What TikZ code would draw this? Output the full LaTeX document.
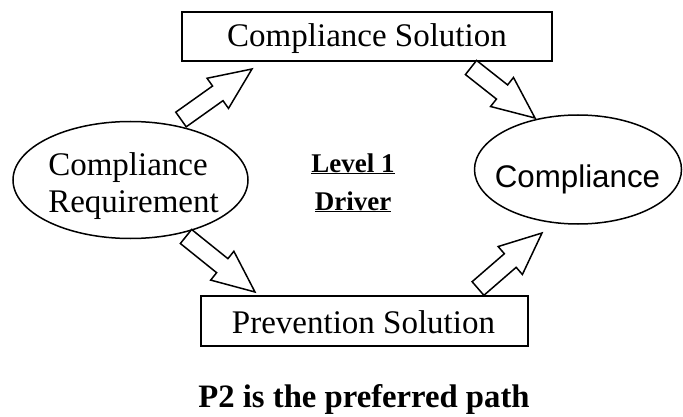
\documentclass[tikz,border=0pt]{standalone}
\usepackage{fontspec}
\setmainfont{Liberation Serif}
\newfontfamily\arialf{Liberation Sans}
\usetikzlibrary{shapes.geometric,calc}
\tikzset{
  boxnode/.style={draw, line width=1.5pt, inner sep=0pt},
  ellnode/.style={draw, ellipse, line width=1.5pt, inner sep=0pt},
  blockarrow/.style={draw, line width=1.5pt, line join=miter, fill=white},
  bigtext/.style={font=\fontsize{33}{37}\selectfont, inner sep=0pt},
}
\newcommand\blockarr[2]{%
  \coordinate (#1n) at ($(#2)!42pt!(#1)$);
  \draw[blockarrow] ($(#1)!9pt!90:(#2)$) -- ($(#1n)!9pt!90:(#2)$) -- ($(#1n)!18.5pt!90:(#2)$) -- (#2) -- ($(#1n)!18.5pt!-90:(#2)$) -- ($(#1n)!9pt!-90:(#2)$) -- ($(#1)!9pt!-90:(#2)$) -- cycle;}
\begin{document}
\begin{tikzpicture}[x=1pt,y=-1pt]
\useasboundingbox (0,0) rectangle (683,417);
% boxes
\node[boxnode, minimum width=370pt, minimum height=49pt] (csol) at (367,36.5) {};
\node[bigtext, anchor=base] (csoltext) at (367,47) {Compliance Solution};
\node[boxnode, minimum width=327pt, minimum height=50pt] (psol) at (364.5,321) {};
\node[bigtext, anchor=base] (psoltext) at (363.5,333) {Prevention Solution};
% ellipses
\node[ellnode, minimum width=235pt, minimum height=117pt] (req) at (130.5,180) {};
\node[bigtext, align=left] (reqtext) at (133.5,186) {Compliance\\Requirement};
\node[ellnode, minimum width=207pt, minimum height=109pt] (comp) at (578,169.5) {};
\node[font=\arialf\fontsize{31.3}{35}\selectfont, inner sep=0pt, anchor=base] (comptext) at (577.5,187) {Compliance};
% center text
\node[font=\bfseries\fontsize{27}{30}\selectfont, inner sep=0pt, anchor=base] (lvl) at (353,172) {\underline{Level 1}};
\node[font=\bfseries\fontsize{27}{30}\selectfont, inner sep=0pt, anchor=base] (drv) at (353,210) {\underline{Driver}};
% caption
\node[font=\bfseries\fontsize{32.7}{36}\selectfont, inner sep=0pt, anchor=base] (cap) at (364,407) {P2 is the preferred path};
% arrows
\coordinate (a1t) at (181,119.5); \coordinate (a1h) at (252,69);
\coordinate (a2t) at (471,67.5);  \coordinate (a2h) at (535,118);
\coordinate (a3t) at (186,236.5); \coordinate (a3h) at (255,292);
\coordinate (a4t) at (478,288.5); \coordinate (a4h) at (542,233);
\blockarr{a1t}{a1h}
\blockarr{a2t}{a2h}
\blockarr{a3t}{a3h}
\blockarr{a4t}{a4h}
\end{tikzpicture}
\end{document}
